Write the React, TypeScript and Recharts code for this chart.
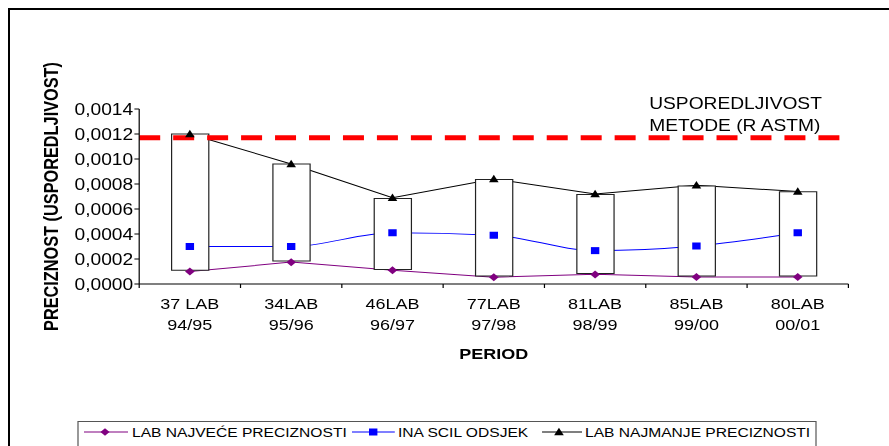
import { ComposedChart, Bar, Line, XAxis, YAxis, ReferenceLine } from 'recharts';

const LABS = ['37 LAB', '34LAB', '46LAB', '77LAB', '81LAB', '85LAB', '80LAB'];
const PERIODS = ['94/95', '95/96', '96/97', '97/98', '98/99', '99/00', '00/01'];
const NAJVECE = [0.0001, 0.000175, 0.00011, 0.000055, 0.000077, 0.000056, 0.000056];
const INA = [0.0003, 0.0003, 0.00041, 0.00039, 0.000267, 0.000304, 0.00041];
const NAJMANJE = [0.0012, 0.00096, 0.00069, 0.00084, 0.00072, 0.00079, 0.00074];
const BOX_LOW = [0.00011, 0.000184, 0.000117, 0.000064, 0.000085, 0.000064, 0.000064];
const BOX_HIGH = [0.0012, 0.00096, 0.000685, 0.000837, 0.000717, 0.000784, 0.000739];
const Y_TICKS = [0, 0.0002, 0.0004, 0.0006, 0.0008, 0.001, 0.0012, 0.0014];
const ASTM = 0.00117;

const SERIES = ['LAB NAJVEĆE PRECIZNOSTI', 'INA SCIL ODSJEK', 'LAB NAJMANJE PRECIZNOSTI'];
const PURPLE = '#800080';
const BLUE = '#0000FF';
const FONT = '"Liberation Sans", Arial, sans-serif';

// the original picture is stretched sideways, so the chart is drawn narrower and scaled
const SX = 1.2;
const W = 741;
const H = 446;
const M = { top: 109, right: 34, bottom: 132, left: 56 };
const Y_W = 60;
const X_H = 30;
const BAND = (W - M.left - M.right - Y_W) / LABS.length;

const data = LABS.map((lab, i) => ({
  lab,
  period: PERIODS[i],
  najvece: NAJVECE[i],
  ina: INA[i],
  najmanje: NAJMANJE[i],
  box: [BOX_LOW[i], BOX_HIGH[i]],
}));

const fmt = (v: number) => v.toFixed(4).replace('.', ',');

const diamond = (cx: number, cy: number, r = 4) => `M${cx},${cy - r}L${cx + r},${cy}L${cx},${cy + r}L${cx - r},${cy}Z`;
const triangle = (cx: number, cy: number) => `M${cx},${cy - 4.2}L${cx + 4},${cy + 3.2}L${cx - 4},${cy + 3.2}Z`;

const DiamondDot = (p: any) => (p.cx == null ? null : <path key={`d${p.index}`} d={diamond(p.cx, p.cy)} fill={PURPLE} />);
const SquareDot = (p: any) => (p.cx == null ? null : <rect key={`s${p.index}`} x={p.cx - 3.5} y={p.cy - 3.5} width={7} height={7} fill={BLUE} />);
const TriangleDot = (p: any) => (p.cx == null ? null : <path key={`t${p.index}`} d={triangle(p.cx, p.cy)} fill="#000" />);

const LabTick = (p: any) => {
  const { x, y, index, payload } = p;
  return (
    <g>
      <line x1={x - BAND / 2} x2={x - BAND / 2} y1={y} y2={y + 4} stroke="#000" />
      {index === LABS.length - 1 && <line x1={x + BAND / 2} x2={x + BAND / 2} y1={y} y2={y + 4} stroke="#000" />}
      <text x={x} y={y + 25.5} textAnchor="middle" fontSize={15} fontFamily={FONT} fill="#000">{payload.value}</text>
      <text x={x} y={y + 46.5} textAnchor="middle" fontSize={15} fontFamily={FONT} fill="#000">{PERIODS[index]}</text>
    </g>
  );
};

const YTitle = (p: any) => {
  const vb = p.viewBox;
  const cx = vb.x - 13;
  const cy = vb.y + vb.height / 2;
  return (
    <text x={cx} y={cy} transform={`rotate(-90, ${cx}, ${cy})`} textAnchor="middle" dominantBaseline="central" fontSize={16.3} fontWeight="bold" fontFamily={FONT} fill="#000">
      PRECIZNOST (USPOREDLJIVOST)
    </text>
  );
};

const XTitle = (p: any) => {
  const vb = p.viewBox;
  return (
    <text x={vb.x + vb.width / 2} y={vb.y + 75.5} textAnchor="middle" fontSize={15} fontWeight="bold" fontFamily={FONT} fill="#000">
      PERIOD
    </text>
  );
};

const AstmLabel = (p: any) => {
  const vb = p.viewBox;
  return (
    <text x={541} y={vb.y} fontSize={16} fontFamily={FONT} fill="#000">
      <tspan x={541} dy={-29}>USPOREDLJIVOST</tspan>
      <tspan x={541} dy={22}>METODE (R ASTM)</tspan>
    </text>
  );
};

function LegendBox() {
  const cy = 432;
  const items = [
    { x1: 70, x2: 106.7, color: PURPLE, tx: 110, mark: <path d={diamond(87.5, cy, 3.8)} fill={PURPLE} /> },
    { x1: 293.3, x2: 329, color: BLUE, tx: 331.7, mark: <rect x={311 - 3.5} y={cy - 3.5} width={7} height={7} fill={BLUE} /> },
    { x1: 451.7, x2: 485, color: '#000', tx: 487.5, mark: <path d={triangle(465.8, cy)} fill="#000" /> },
  ];
  return (
    <svg width={W} height={H} style={{ position: 'absolute', left: 0, top: 0, pointerEvents: 'none' }}>
      <rect x={65} y={421.5} width={615} height={40} fill="#fff" stroke="#555" />
      {items.map((it, i) => (
        <g key={i}>
          <line x1={it.x1} x2={it.x2} y1={cy} y2={cy} stroke={it.color} />
          {it.mark}
          <text x={it.tx} y={cy + 4.7} fontSize={13} fontFamily={FONT} fill="#000">{SERIES[i]}</text>
        </g>
      ))}
    </svg>
  );
}

export default function App() {
  return (
    <div style={{ position: 'absolute', left: 0, top: 0, width: 889, height: 446, overflow: 'hidden', background: '#fff' }}>
      <div style={{ position: 'absolute', left: 8, top: 8, width: 1000, height: 1000, borderLeft: '2px solid #000', borderTop: '2px solid #000' }} />
      <div style={{ position: 'absolute', left: 0, top: 0, width: W, height: H, transform: `scaleX(${SX})`, transformOrigin: '0 0' }}>
        <ComposedChart width={W} height={H} data={data} margin={M}>
          <XAxis dataKey="lab" height={X_H} tick={LabTick} tickLine={false} tickSize={0} tickMargin={0} interval={0} axisLine={{ stroke: '#000' }} label={XTitle} />
          <YAxis
            width={Y_W}
            domain={[0, 0.0014]}
            ticks={Y_TICKS}
            tickFormatter={fmt}
            tickSize={4}
            tickMargin={1}
            axisLine={{ stroke: '#000' }}
            tickLine={{ stroke: '#000' }}
            tick={{ fontSize: 16, fontFamily: FONT, fill: '#000' }}
            label={YTitle}
          />
          <Line dataKey="najvece" stroke={PURPLE} strokeWidth={1} dot={false} activeDot={false} isAnimationActive={false} zIndex={100} />
          <Line dataKey="ina" type="monotone" stroke={BLUE} strokeWidth={1} dot={false} activeDot={false} isAnimationActive={false} zIndex={100} />
          <Line dataKey="najmanje" stroke="#000" strokeWidth={1} dot={false} activeDot={false} isAnimationActive={false} zIndex={100} />
          <Bar dataKey="box" barSize={31} fill="#fff" stroke="#222" strokeWidth={1} isAnimationActive={false} zIndex={200} />
          <ReferenceLine y={ASTM} stroke="#FF0000" strokeWidth={5} strokeDasharray="17.5 10.8" label={AstmLabel} zIndex={250} />
          <Line dataKey="najvece" stroke="none" dot={DiamondDot} activeDot={false} isAnimationActive={false} legendType="none" zIndex={300} />
          <Line dataKey="ina" stroke="none" dot={SquareDot} activeDot={false} isAnimationActive={false} legendType="none" zIndex={300} />
          <Line dataKey="najmanje" stroke="none" dot={TriangleDot} activeDot={false} isAnimationActive={false} legendType="none" zIndex={300} />
        </ComposedChart>
        <LegendBox />
      </div>
    </div>
  );
}
